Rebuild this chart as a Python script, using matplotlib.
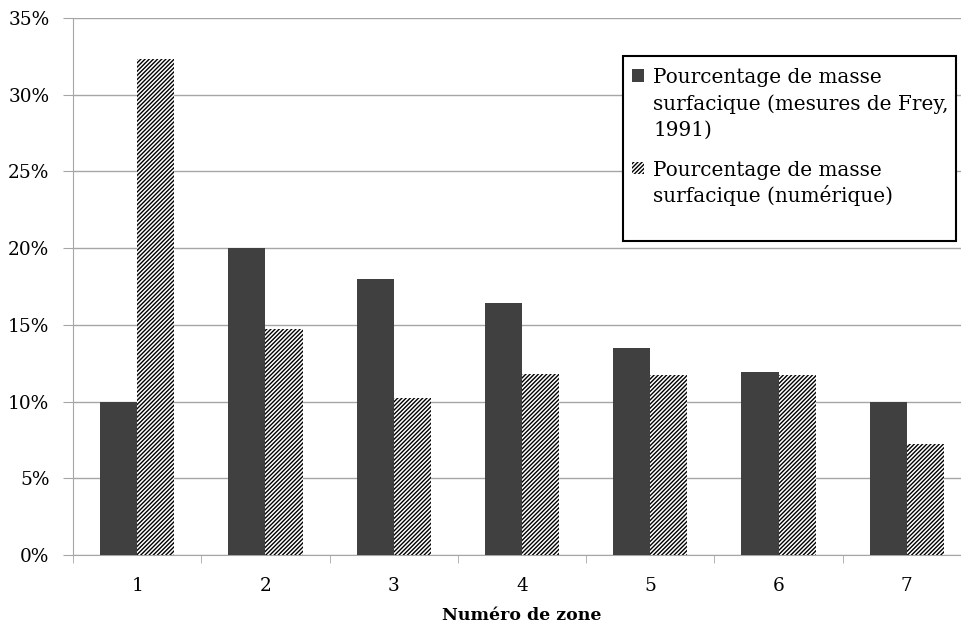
import numpy as np
import matplotlib
matplotlib.use("Agg")
import matplotlib.pyplot as plt
from matplotlib.patches import Rectangle

# data
zones = ["1", "2", "3", "4", "5", "6", "7"]
frey = [10.0, 20.0, 18.0, 16.45, 13.5, 11.95, 10.0]
numerique = [32.35, 14.7, 10.25, 11.8, 11.7, 11.7, 7.25]
yticks = [0, 5, 10, 15, 20, 25, 30, 35]

label_frey = ["Pourcentage de masse", "surfacique (mesures de Frey,", "1991)"]
label_num = ["Pourcentage de masse", "surfacique (numérique)"]

DARK = "#404040"
GREY = "#a6a6a6"
HATCH = "////////"

plt.rcParams["font.family"] = ["DejaVu Serif"]
plt.rcParams["hatch.linewidth"] = 1.0

W, H = 961, 626
fig = plt.figure(figsize=(W / 100, H / 100), dpi=100)
ax = fig.add_axes([73 / W, 71 / H, 898 / W, 537 / H])

x = np.arange(len(zones))
w = 0.29
ax.bar(x - w / 2, frey, w, color=DARK, linewidth=0, zorder=3)
ax.bar(x + w / 2, numerique, w, color="white", edgecolor="black", hatch=HATCH,
       linewidth=0, zorder=3)

ax.set_xlim(-0.5, len(zones) - 0.5)
ax.set_ylim(0, 35)
ax.set_yticks(yticks)
ax.set_yticklabels([f"{v}%" for v in yticks], fontsize=13.3)
ax.yaxis.grid(True, color=GREY, lw=1)
ax.set_axisbelow(True)

ax.set_xticks(x)
ax.set_xticklabels(zones, fontsize=13.3)
ax.set_xticks(np.arange(-0.5, len(zones), 1), minor=True)
ax.tick_params(axis="x", which="major", length=0, pad=15.5)
ax.tick_params(axis="x", which="minor", length=6, color=GREY)
ax.tick_params(axis="y", length=7, color=GREY, pad=10)

ax.set_xlabel("Numéro de zone", fontsize=12.5, fontweight="bold")
ax.xaxis.set_label_coords(0.5, -65 / 537)
ax.xaxis.label.set_va("baseline")

for s in ["top", "right"]:
    ax.spines[s].set_visible(False)
for s in ["left", "bottom"]:
    ax.spines[s].set_color(GREY)

# legend drawn by hand so the keys sit on the first line of each label
def fy(py):
    return 1 - py / H

fig.patches.append(Rectangle((623 / W, fy(241)), 333 / W, 185 / H,
                             transform=fig.transFigure, facecolor="white",
                             edgecolor="black", linewidth=1.5, zorder=5))
fig.patches.append(Rectangle((632 / W, fy(82)), 12 / W, 13 / H,
                             transform=fig.transFigure, facecolor=DARK,
                             linewidth=0, zorder=6))
fig.patches.append(Rectangle((632 / W, fy(174)), 12 / W, 12 / H,
                             transform=fig.transFigure, facecolor="white",
                             edgecolor="black", hatch=HATCH, linewidth=0, zorder=6))

for lines, y0 in [(label_frey, 83), (label_num, 176)]:
    for i, line in enumerate(lines):
        fig.text(653 / W, fy(y0 + 26.5 * i), line, fontsize=14.4, va="baseline",
                 ha="left", zorder=7)

fig.savefig("out.png", dpi=100)
